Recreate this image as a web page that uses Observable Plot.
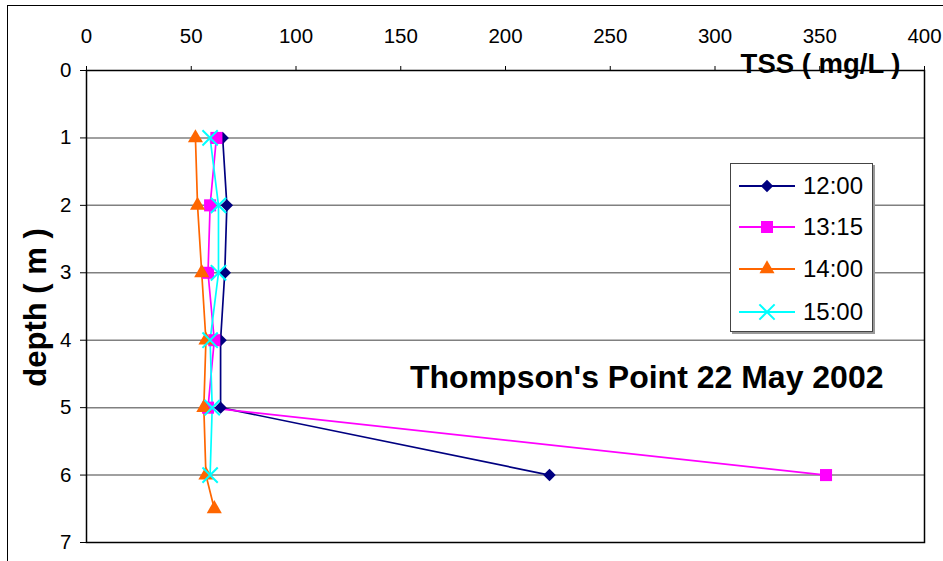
<!DOCTYPE html>
<html>
<head>
<meta charset="utf-8">
<script src="https://cdn.jsdelivr.net/npm/d3@7"></script>
<script src="https://cdn.jsdelivr.net/npm/@observablehq/plot@0.6"></script>
<style>
  html, body { margin: 0; padding: 0; background: #fff; overflow: hidden; }
  #wrap { position: relative; width: 943px; height: 561px; font-family: "Liberation Sans", Arial, sans-serif; }
  #outer { position: absolute; left: 7px; top: 5px; width: 1000px; height: 700px; border: 1.5px solid #000; box-sizing: border-box; }
  #chart { position: absolute; left: 0; top: 0; }
  #legend { position: absolute; left: 730px; top: 163px; width: 143px; height: 169px; box-sizing: border-box;
            border: 1.5px solid #444; background: #fff; box-shadow: 2px 2px 0 #999; }
  .item { position: absolute; left: 0; height: 30px; display: flex; align-items: center; }
  .item span { font-size: 24px; color: #000; margin-left: 6px; }
</style>
</head>
<body>
<div id="wrap">
  <div id="outer"></div>
  <div id="chart"></div>
  <div id="legend"></div>
</div>
<script>
// ---- data ----
const series = ["12:00", "13:15", "14:00", "15:00"];
const colors = ["#000080", "#FF00FF", "#FF6600", "#00FFFF"];
const symbols = ["diamond2", "square", "triangle", "times"];

const depth1200 = [1, 2, 3, 4, 5, 6];
const tss1200   = [65, 67, 66, 64, 64, 221];

const depth1315 = [1, 2, 3, 4, 5, 6];
const tss1315   = [62, 59, 58, 61, 58, 353];

const depth1400 = [1, 2, 3, 4, 5, 6, 6.5];
const tss1400   = [52, 53, 55, 57, 56, 57, 61];

const depth1500 = [1, 2, 3, 4, 5, 6];
const tss1500   = [59, 63, 63, 59, 60, 59];

const xTicks = [0, 50, 100, 150, 200, 250, 300, 350, 400];
const yTicks = [0, 1, 2, 3, 4, 5, 6, 7];
const gridDepths = [1, 2, 3, 4, 5, 6];

const xTitle = "TSS ( mg/L )";
const yTitle = "depth ( m )";
const note = "Thompson's Point 22 May 2002";

// ---- build table ----
const depthsAll = [depth1200, depth1315, depth1400, depth1500];
const tssAll = [tss1200, tss1315, tss1400, tss1500];
const rows = [];
series.forEach((s, i) => depthsAll[i].forEach((d, j) => rows.push({series: s, depth: d, tss: tssAll[i][j]})));

const markSize = {"diamond2": 5.6, "square": 6.8, "triangle": 5.6, "times": 7};

const marks = [
  Plot.ruleY(gridDepths, {stroke: "#808080", strokeWidth: 1.5}),
  Plot.line(rows, {x: "tss", y: "depth", z: "series", stroke: "series", strokeWidth: 1.7}),
  ...series.map((s, i) => {
    const data = rows.filter(r => r.series === s);
    const sym = symbols[i];
    return sym === "times"
      ? Plot.dot(data, {x: "tss", y: "depth", symbol: () => sym, r: markSize[sym], stroke: colors[i], strokeWidth: 2, fill: "none"})
      : Plot.dot(data, {x: "tss", y: "depth", symbol: () => sym, r: markSize[sym], fill: colors[i], stroke: "none"});
  }),
  Plot.frame({stroke: "#000", strokeWidth: 1.5}),
  Plot.axisX(xTicks, {anchor: "top", tickSize: 5, tickPadding: 23, fontSize: 20.5, label: null}),
  Plot.axisY(yTicks, {anchor: "left", tickSize: 6, tickPadding: 9, fontSize: 20.5, label: null, tickFormat: d => String(d)}),
  Plot.text([xTitle], {text: d => d, frameAnchor: "top-right", textAnchor: "end", lineAnchor: "middle", dx: -24, dy: -6,
                       fontSize: 27.5, fontWeight: "bold"}),
  Plot.text([yTitle], {text: d => d, frameAnchor: "left", textAnchor: "middle", lineAnchor: "middle", rotate: -90, dx: -50, dy: 1,
                       fontSize: 31, fontWeight: "bold"}),
  Plot.text([note], {text: d => d, frameAnchor: "right", textAnchor: "end", lineAnchor: "middle", dx: -41, dy: 71,
                     fontSize: 32, fontWeight: "bold"})
];

const chart = Plot.plot({
  width: 943,
  height: 561,
  marginLeft: 86,
  marginRight: 19,
  marginTop: 70,
  marginBottom: 19,
  style: {fontFamily: "'Liberation Sans', Arial, sans-serif", color: "#000", background: "transparent", overflow: "visible"},
  x: {domain: [0, 400], axis: null},
  y: {domain: [0, 7], reverse: true, axis: null},
  color: {domain: series, range: colors},
  marks
});
document.getElementById("chart").appendChild(chart);

// ---- legend ----
const symMap = {"diamond2": d3.symbolDiamond2, "square": d3.symbolSquare, "triangle": d3.symbolTriangle, "times": d3.symbolTimes};
const legend = document.getElementById("legend");
const itemTops = [7, 48, 90, 133];
series.forEach((s, i) => {
  const div = document.createElement("div");
  div.className = "item";
  div.style.top = itemTops[i] + "px";
  const ns = "http://www.w3.org/2000/svg";
  const svg = document.createElementNS(ns, "svg");
  svg.setAttribute("width", 66); svg.setAttribute("height", 30);
  const line = document.createElementNS(ns, "line");
  line.setAttribute("x1", 8); line.setAttribute("x2", 64); line.setAttribute("y1", 15); line.setAttribute("y2", 15);
  line.setAttribute("stroke", colors[i]); line.setAttribute("stroke-width", 2);
  svg.appendChild(line);
  const r = markSize[symbols[i]];
  const path = document.createElementNS(ns, "path");
  path.setAttribute("d", d3.symbol(symMap[symbols[i]], Math.PI * r * r)());
  path.setAttribute("transform", "translate(36,15)");
  if (symbols[i] === "times") { path.setAttribute("fill", "none"); path.setAttribute("stroke", colors[i]); path.setAttribute("stroke-width", 2); }
  else path.setAttribute("fill", colors[i]);
  svg.appendChild(path);
  div.appendChild(svg);
  const span = document.createElement("span");
  span.textContent = s;
  div.appendChild(span);
  legend.appendChild(div);
});
</script>
</body>
</html>
